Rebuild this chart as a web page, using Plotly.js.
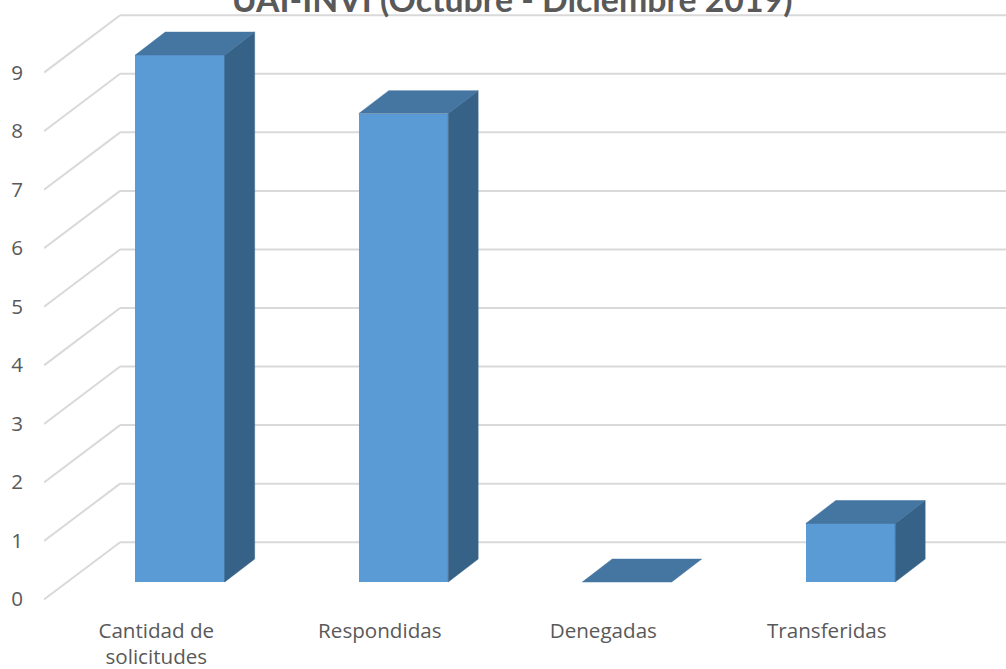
<!DOCTYPE html>
<html><head><meta charset="utf-8">
<script src="https://cdn.plot.ly/plotly-3.0.1.min.js"></script>
<style>html,body{margin:0;padding:0;background:#fff}#c{width:1006px;height:669px}</style>
</head><body><div id="c"></div>
<script>
const categories = ["Cantidad de<br>solicitudes", "Respondidas", "Denegadas", "Transferidas"];
const values = [9, 8, 0, 1];
const yTicks = [0, 1, 2, 3, 4, 5, 6, 7, 8, 9];
const chartTitle = "UAI-INVI (Octubre - Diciembre 2019)";

const idx = categories.map((_, i) => i);
const barW = 0.4, depthX = 0.134, depthY = 0.392;
const labelShift = 0.106;            // category labels sit left of the bar, as in a 3D chart
const wallFront = -0.30, wallBack = 0.68; // height offset of the floor edges
const labelOffset = -0.295;
const xLeft = -0.6085, xCorner = -0.268, xRight = 3.6957;

const gridShapes = [];
yTicks.forEach(v => {
  const line = {color: '#D9D9D9', width: 2};
  gridShapes.push({type: 'line', layer: 'below', xref: 'x', yref: 'y', x0: xLeft, x1: xCorner, y0: v + wallFront, y1: v + wallBack, line});
  gridShapes.push({type: 'line', layer: 'below', xref: 'x', yref: 'y', x0: xCorner, x1: xRight, y0: v + wallBack, y1: v + wallBack, line});
});

const front = {type: 'bar', x: idx, y: values, width: barW, marker: {color: '#5B9BD5', line: {width: 0}}, hoverinfo: 'skip'};
function face(xs, ys, color) {
  return {type: 'scatter', mode: 'lines', x: xs, y: ys, fill: 'toself', fillcolor: color, line: {color: color, width: 0.5}, hoverinfo: 'skip', cliponaxis: false};
}
const faces = [];
idx.forEach(i => {
  const l = i - barW / 2, r = i + barW / 2, v = values[i];
  if (v > 0) faces.push(face([r, r + depthX, r + depthX, r, r], [0, depthY, v + depthY, v, 0], '#376288'));
  faces.push(face([l, r, r + depthX, l + depthX, l], [v, v, v + depthY, v + depthY, v], '#4575A1'));
});

Plotly.newPlot('c', [front, ...faces], {
  width: 1006, height: 669, showlegend: false, autosize: false,
  paper_bgcolor: '#fff', plot_bgcolor: 'rgba(0,0,0,0)',
  margin: {l: 44, r: 0, t: 0, b: 60, pad: 0},
  title: {text: '<b>' + chartTitle + '</b>', font: {family: 'Lato', size: 33.8, color: '#595959'}, x: 0.509, xanchor: 'center', xref: 'container', yref: 'container', y: 1.0, yanchor: 'middle'},
  xaxis: {range: [xLeft, xRight], tickmode: 'array', tickvals: idx.map(i => i - labelShift), ticktext: categories, showgrid: false, zeroline: false, showline: false, ticks: '', tickfont: {family: 'Open Sans', size: 20.6, color: '#595959'}, ticklabelstandoff: 7, fixedrange: true, automargin: false},
  yaxis: {range: [-0.461, 9.940], tickmode: 'array', tickvals: yTicks.map(v => v + labelOffset), ticktext: yTicks.map(String), showgrid: false, zeroline: false, showline: false, ticks: '', tickfont: {family: 'Open Sans', size: 20.6, color: '#595959'}, ticklabelstandoff: 20, fixedrange: true, automargin: false},
  shapes: gridShapes,
  bargap: 0
}, {displayModeBar: false, responsive: false});
</script></body></html>
